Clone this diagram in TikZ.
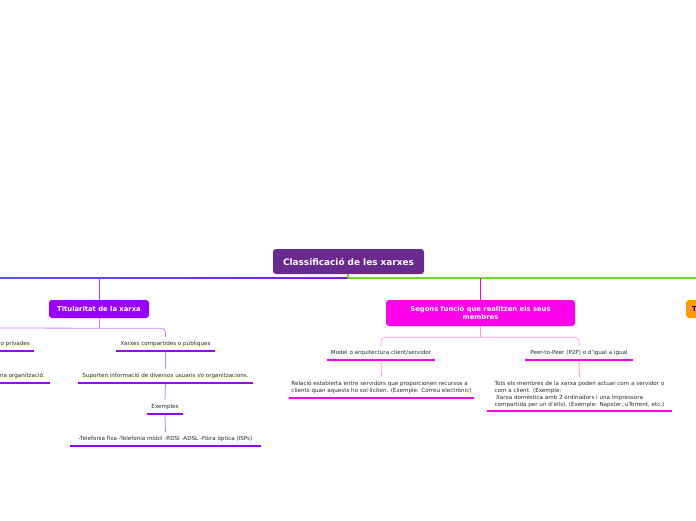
\documentclass[tikz,border=0pt]{standalone}
\usepackage{fontspec}
\setmainfont{DejaVu Sans}
\usetikzlibrary{calc}
\definecolor{cRoot}{HTML}{682A8E}
\definecolor{cVio}{HTML}{9900FF}
\definecolor{cVioL}{HTML}{A040FF}
\definecolor{cVioLL}{HTML}{CC80FF}
\definecolor{cBlue}{HTML}{5555FF}
\definecolor{cVio2}{HTML}{8A10FF}
\definecolor{cGreen}{HTML}{6FDB1E}
\definecolor{cMag}{HTML}{FF00EA}
\definecolor{cMagL}{HTML}{FF99F0}
\definecolor{cOr}{HTML}{FF9900}
\definecolor{cText}{HTML}{2A2A2A}
\tikzset{
  titlebox/.style={rounded corners=3pt, text=white, align=center, inner sep=0pt,
    font=\bfseries\fontsize{6.8}{8}\selectfont},
  leaf/.style={font=\fontsize{5.6}{7}\selectfont, text=cText, inner xsep=0pt, inner ysep=0pt, minimum height=14pt},
  ulV/.style={draw=cVio, line width=2.5pt},
  ulM/.style={draw=cMag, line width=2.5pt},
  brV/.style={draw=cVioLL, line width=0.8pt},
  brM/.style={draw=cMagL, line width=0.8pt},
}
\begin{document}
\begin{tikzpicture}[x=1pt,y=-1pt]
\useasboundingbox (0,0) rectangle (696,520);
\clip (0,0) rectangle (696,520);
\fill[white] (0,0) rectangle (696,520);

% root
\node[titlebox, fill=cRoot, minimum width=151pt, minimum height=25pt,
  font=\bfseries\fontsize{8.9}{10}\selectfont] (root) at (348.5,261.5) {Classificació de les xarxes};

% main line
\coordinate (mL) at (0,278);
\coordinate (mM) at (348,278);
\coordinate (mR) at (696,278);
\shade[left color=cBlue, right color=cVio2] (0,277.2) rectangle (348,278.8);
\draw[cGreen, line width=1.6pt] (mM) -- (mR);
\draw[cGreen, line width=1.2pt] (root.south -| mM) -- (mM);

% Titularitat branch
\node[titlebox, fill=cVio, minimum width=100pt, minimum height=18pt] (tit) at (99,309) {Titularitat de la xarxa};
\draw[cVioL, line width=1pt] (tit.north |- mM) -- (tit.north);

\node[leaf, minimum width=99pt] (pub) at (165.5,344) {Xarxes compartides o públiques};
\node[leaf, minimum width=175pt] (sup) at (165.5,376) {Suporten informació de diversos usuaris i/o organitzacions.};
\node[leaf, minimum width=36pt] (exe) at (165,407) {Exemples};
\node[leaf, minimum width=191pt] (tel) at (165.5,439) {-Telefonia fixa -Telefonia mòbil -RDSI -ADSL -Fibra òptica (ISPs)};
\node[leaf, anchor=south east, inner xsep=4pt] (priv) at (34,351) {o privades};
\node[leaf, anchor=south east, inner xsep=5pt] (org) at (50,383) {na organització.};

\coordinate (tb) at ($(tit.south)+(0,10)$);
\draw[brV] (tit.south) -- (tb);
\draw[brV, rounded corners=4pt] (0,328) -- (tb) -| (pub.north);
\draw[brV] (pub.south) -- (sup.north);
\draw[brV] (sup.south) -- (exe.north);
\draw[brV] (exe.south) -- (tel.north);
\foreach \n in {pub,sup,exe,tel}{\draw[ulV] (\n.south west) -- (\n.south east);}
\draw[ulV] (priv.south east) -- ++(-40,0);
\draw[ulV] (org.south east) -- ++(-55,0);

% Segons branch
\node[titlebox, fill=cMag, minimum width=189pt, minimum height=26pt] (seg) at (480.5,313) {Segons funció que realitzen els seus\\membres};
\draw[cMag, line width=1pt] (seg.north |- mM) -- (seg.north);

\node[leaf, minimum width=108pt] (mod) at (381,353) {Model o arquitectura client/servidor};
\node[leaf, minimum width=108pt] (p2p) at (579,353) {Peer-to-Peer (P2P) o d'igual a igual};
\node[leaf, minimum width=185pt, minimum height=21pt, align=left] (rel) at (381.5,387.5)
  {Relació establerta entre servidors que proporcionen recursos a\\clients quan aquests ho sol·liciten. (Exemple: Correu electrònic)};
\node[leaf, minimum width=185pt, minimum height=34pt, align=left] (tots) at (579.5,394)
  {Tots els membres de la xarxa poden actuar com a servidor o\\com a client. (Exemple:\\\hspace{1.5pt}Xarxa domèstica amb 2 ordinadors i una impressora\\compartida per un d'ells), (Exemple: Napster, uTorrent, etc.)};

\coordinate (sb) at ($(seg.south)+(0,11)$);
\draw[brM] (seg.south) -- (sb);
\draw[brM, rounded corners=4pt] (mod.north) |- (sb) -| (p2p.north);
\draw[brM] (mod.south) -- (rel.north);
\draw[brM] (p2p.south) -- (tots.north);
\foreach \n in {mod,p2p,rel,tots}{\draw[ulM] (\n.south west) -- (\n.south east);}

% orange node (cut at right edge)
\node[titlebox, fill=cOr, text=black, anchor=west, inner xsep=6pt, text width=30pt, align=left,
  minimum height=18pt] (typ) at (686,309) {T};
\end{tikzpicture}
\end{document}
